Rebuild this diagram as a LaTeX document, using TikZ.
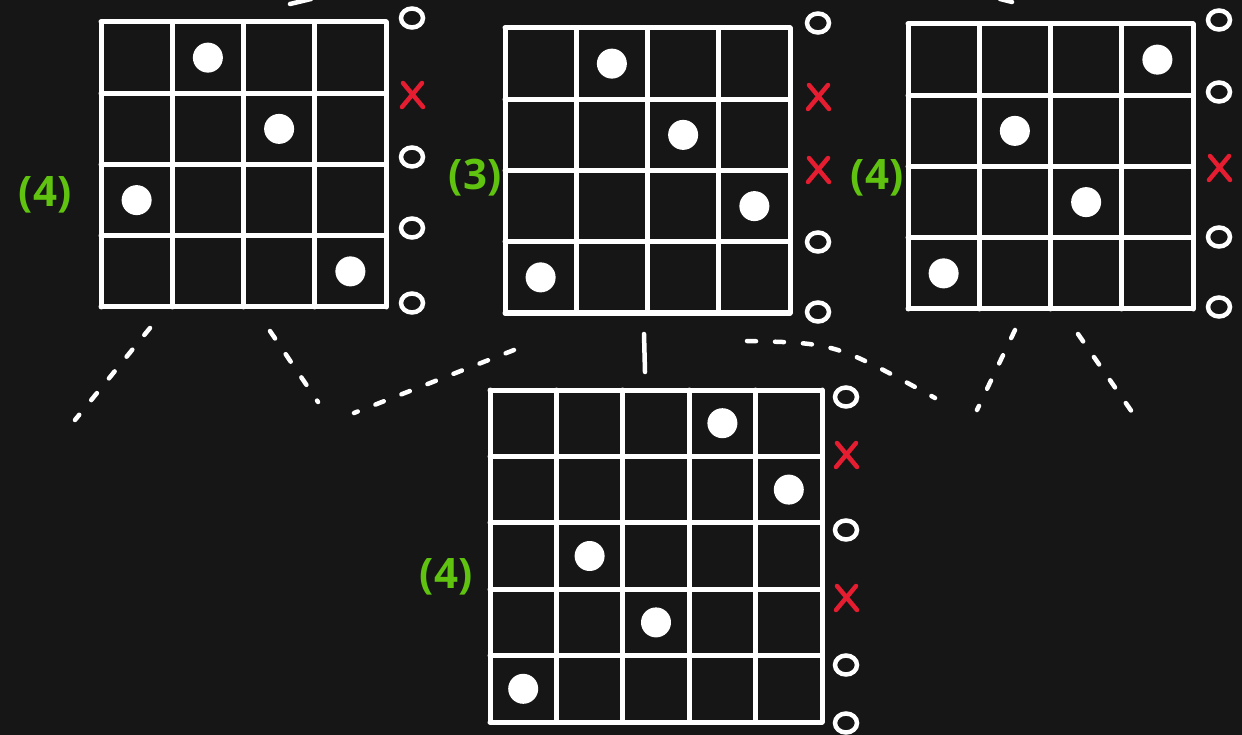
\documentclass[tikz,border=0pt]{standalone}
\usepackage{fontspec}
\setsansfont{Open Sans}
\definecolor{board}{RGB}{22,22,22}
\definecolor{chalkgreen}{RGB}{95,195,15}
\definecolor{chalkred}{RGB}{230,28,48}
\tikzset{
  gridline/.style={white,line width=5pt,line cap=round},
  piece/.style={white},
  branch/.style={white,line width=4.5pt,line cap=round,dash pattern=on 9pt off 19pt},
  stub/.style={white,line width=4.5pt,line cap=round},
  countlab/.style={text=chalkgreen,font=\sffamily\bfseries\fontsize{42}{42}\selectfont,inner sep=0pt},
  okmark/.pic={\draw[white,line width=4.5pt] (0,0) ellipse (11pt and 9.5pt);},
  badmark/.pic={\draw[chalkred,line width=4.5pt,line cap=round] (-10pt,-12pt) -- (10pt,12pt) (-9pt,12pt) -- (11pt,-12pt);}
}

\begin{document}
\begin{tikzpicture}[x=1pt,y=-1pt]
  \fill[board] (0,0) rectangle (1242,735);
  \useasboundingbox (0,0) rectangle (1242,735);

  % left board
  \begin{scope}[shift={(101,22)}]
    \foreach \k in {0,...,4} {
      \draw[gridline] (\k*71.25,0) -- (\k*71.25,285);
      \draw[gridline] (0,\k*71.25) -- (285,\k*71.25);
    }
    \foreach \c/\r in {2/1,3/2,1/3,4/4}
      \fill[piece] ({(\c-0.5)*71.25},{(\r-0.5)*71.25}) circle (15pt);
  \end{scope}
  \foreach \yy/\m in {18/okmark,95/badmark,157/okmark,228/okmark,303/okmark}
    \pic at (412,\yy) {\m};
  \node[countlab] (cntA) at (45,195) {(4)};

  % middle board
  \begin{scope}[shift={(505,28)}]
    \foreach \k in {0,...,4} {
      \draw[gridline] (\k*71.25,0) -- (\k*71.25,285);
      \draw[gridline] (0,\k*71.25) -- (285,\k*71.25);
    }
    \foreach \c/\r in {2/1,3/2,4/3,1/4}
      \fill[piece] ({(\c-0.5)*71.25},{(\r-0.5)*71.25}) circle (15pt);
  \end{scope}
  \foreach \yy/\m in {23/okmark,97/badmark,170/badmark,242/okmark,312/okmark}
    \pic at (818,\yy) {\m};
  \node[countlab] (cntB) at (475,178) {(3)};

  % right board
  \begin{scope}[shift={(908,24)}]
    \foreach \k in {0,...,4} {
      \draw[gridline] (\k*71.25,0) -- (\k*71.25,285);
      \draw[gridline] (0,\k*71.25) -- (285,\k*71.25);
    }
    \foreach \c/\r in {4/1,2/2,3/3,1/4}
      \fill[piece] ({(\c-0.5)*71.25},{(\r-0.5)*71.25}) circle (15pt);
  \end{scope}
  \foreach \yy/\m in {20/okmark,92/okmark,168/badmark,237/okmark,307/okmark}
    \pic at (1219,\yy) {\m};
  \node[countlab] (cntC) at (877,178) {(4)};

  % lower board
  \begin{scope}[shift={(490,390)}]
    \foreach \k in {0,...,5} {
      \draw[gridline] (\k*66.4,0) -- (\k*66.4,332);
      \draw[gridline] (0,\k*66.4) -- (332,\k*66.4);
    }
    \foreach \c/\r in {4/1,5/2,2/3,3/4,1/5}
      \fill[piece] ({(\c-0.5)*66.4},{(\r-0.5)*66.4}) circle (15pt);
  \end{scope}
  \foreach \yy/\m in {397/okmark,455/badmark,530/okmark,598/badmark,665/okmark,723/okmark}
    \pic at (846,\yy) {\m};
  \node[countlab] (cntD) at (446,577) {(4)};

  % branches
  \coordinate (a0) at (150,328);  \coordinate (a1) at (75,420);
  \coordinate (b0) at (270,331);  \coordinate (b1) at (318,402);
  \coordinate (c0) at (354,413);  \coordinate (c1) at (514,350);
  \coordinate (d0) at (644,334);  \coordinate (d1) at (645,372);
  \coordinate (e0) at (747,341);  \coordinate (e1) at (935,398);
  \coordinate (f0) at (1015,330); \coordinate (f1) at (977,410);
  \coordinate (g0) at (1078,334); \coordinate (g1) at (1132,412);
  \coordinate (t0) at (290,4);    \coordinate (t1) at (311,-1);
  \coordinate (u0) at (1000,-1);  \coordinate (u1) at (1012,2);
  \draw[branch] (a0) -- (a1);
  \draw[branch] (b0) -- (b1);
  \draw[branch] (c1) -- (c0);
  \draw[stub] (d0) -- (d1);
  \draw[branch] (e0) .. controls (835,343) .. (e1);
  \draw[branch] (f0) -- (f1);
  \draw[branch] (g0) -- (g1);
  \draw[stub] (t0) -- (t1);
  \draw[stub] (u0) -- (u1);
\end{tikzpicture}
\end{document}
